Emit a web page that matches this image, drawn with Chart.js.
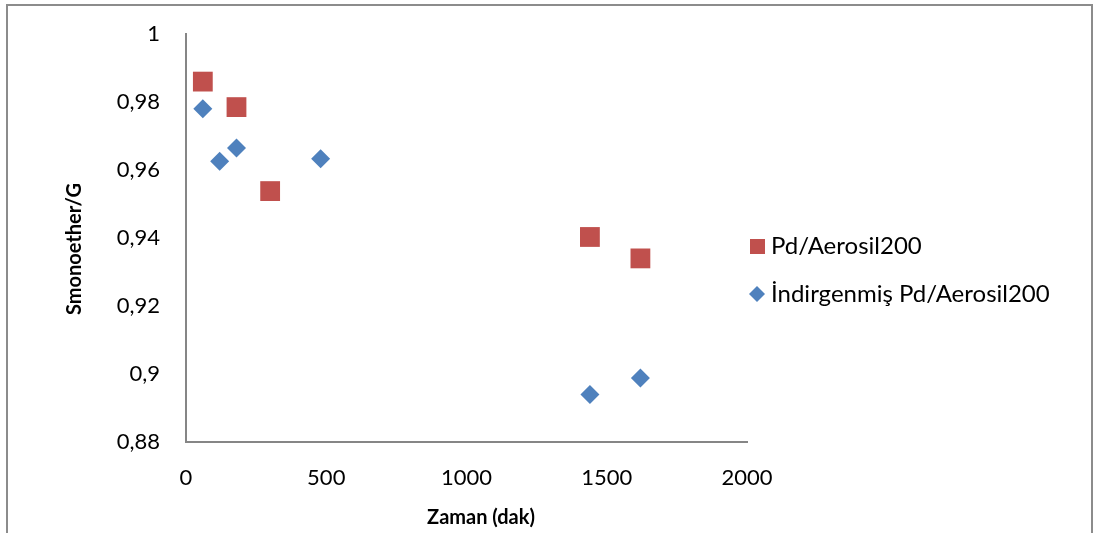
<!DOCTYPE html>
<html>
<head>
<meta charset="utf-8">
<script src="https://cdn.jsdelivr.net/npm/chart.js@4"></script>
<style>
  html, body { margin: 0; padding: 0; background: #fff; }
  canvas { display: block; }
</style>
</head>
<body>
<canvas id="chart" width="1095" height="533"></canvas>
<script>
// Selectivity vs. time for the two catalysts
const seriesNames = ["Pd/Aerosil200", "İndirgenmiş Pd/Aerosil200"];
const pdTimes = [60, 180, 300, 1440, 1620];
const pdValues = [0.986, 0.9785, 0.9538, 0.9403, 0.934];
const reducedTimes = [60, 120, 180, 480, 1440, 1620];
const reducedValues = [0.978, 0.9626, 0.9665, 0.9633, 0.894, 0.8988];
const xTicks = [0, 500, 1000, 1500, 2000];
const yTicks = [0.88, 0.9, 0.92, 0.94, 0.96, 0.98, 1];
const xTitle = "Zaman (dak)";
const yTitle = "Smonoether/G";

const RED = "#C0504D";
const BLUE = "#4F81BD";
const FONT = "Lato, 'Open Sans', sans-serif";

const toPoints = (xs, ys) => xs.map((x, i) => ({ x, y: ys[i] }));
const fmt = (v) => String(Number(v.toFixed(2))).replace(".", ",");

// Outer frame, axis titles and legend
const decorations = {
  id: "decorations",
  beforeDraw(chart) {
    const ctx = chart.ctx;
    ctx.save();
    ctx.fillStyle = "#fff";
    ctx.fillRect(0, 0, chart.width, chart.height);
    ctx.strokeStyle = "#8c8c8c";
    ctx.lineWidth = 2;
    ctx.strokeRect(7, 5, 1085, 600);
    ctx.restore();
  },
  afterDraw(chart) {
    const ctx = chart.ctx;
    ctx.save();
    ctx.fillStyle = "#000";
    ctx.font = "bold 20px " + FONT;
    ctx.textAlign = "center";
    ctx.textBaseline = "middle";
    ctx.fillText(xTitle, 481, 518);
    ctx.translate(75, 249);
    ctx.rotate(-Math.PI / 2);
    ctx.fillText(yTitle, 0, 0);
    ctx.restore();

    // legend
    ctx.save();
    ctx.font = "24px " + FONT;
    ctx.textAlign = "left";
    ctx.textBaseline = "middle";
    ctx.fillStyle = RED;
    ctx.fillRect(750, 239, 15, 15);
    ctx.fillStyle = BLUE;
    ctx.beginPath();
    ctx.moveTo(757, 286);
    ctx.lineTo(765, 294);
    ctx.lineTo(757, 302);
    ctx.lineTo(749, 294);
    ctx.closePath();
    ctx.fill();
    ctx.fillStyle = "#000";
    ctx.fillText(seriesNames[0], 771, 246);
    ctx.fillText(seriesNames[1], 771, 294);
    ctx.restore();
  }
};

new Chart(document.getElementById("chart"), {
  type: "scatter",
  data: {
    datasets: [
      {
        label: seriesNames[0],
        data: toPoints(pdTimes, pdValues),
        pointStyle: "rect",
        pointRadius: 14,
        pointHoverRadius: 14,
        backgroundColor: RED,
        borderColor: RED,
        borderWidth: 0
      },
      {
        label: seriesNames[1],
        data: toPoints(reducedTimes, reducedValues),
        pointStyle: "rectRot",
        pointRadius: 9.5,
        pointHoverRadius: 9.5,
        backgroundColor: BLUE,
        borderColor: BLUE,
        borderWidth: 0
      }
    ]
  },
  options: {
    responsive: false,
    animation: false,
    events: [],
    layout: { padding: { top: 34, right: 348, left: 0, bottom: 0 } },
    plugins: {
      legend: { display: false },
      tooltip: { enabled: false }
    },
    scales: {
      x: {
        type: "linear",
        min: 0,
        max: 2000,
        afterBuildTicks: (scale) => { scale.ticks = xTicks.map((v) => ({ value: v })); },
        afterFit: (scale) => {
          scale.height = 91;
          scale.paddingLeft = 0;
          scale.paddingRight = 0;
        },
        grid: { display: false, drawTicks: false },
        border: { display: true, color: "#868686", width: 2 },
        ticks: {
          padding: 23,
          color: "#000",
          font: { family: FONT, size: 22 },
          callback: (v) => String(v)
        }
      },
      y: {
        type: "linear",
        min: 0.88,
        max: 1,
        afterBuildTicks: (scale) => { scale.ticks = yTicks.map((v) => ({ value: v })); },
        afterFit: (scale) => {
          scale.width = 186;
          scale.paddingTop = 0;
          scale.paddingBottom = 0;
        },
        grid: { display: false, drawTicks: false },
        border: { display: true, color: "#868686", width: 2 },
        ticks: {
          padding: 26,
          color: "#000",
          font: { family: FONT, size: 22 },
          callback: (v) => fmt(v)
        }
      }
    }
  },
  plugins: [decorations]
});
</script>
</body>
</html>
